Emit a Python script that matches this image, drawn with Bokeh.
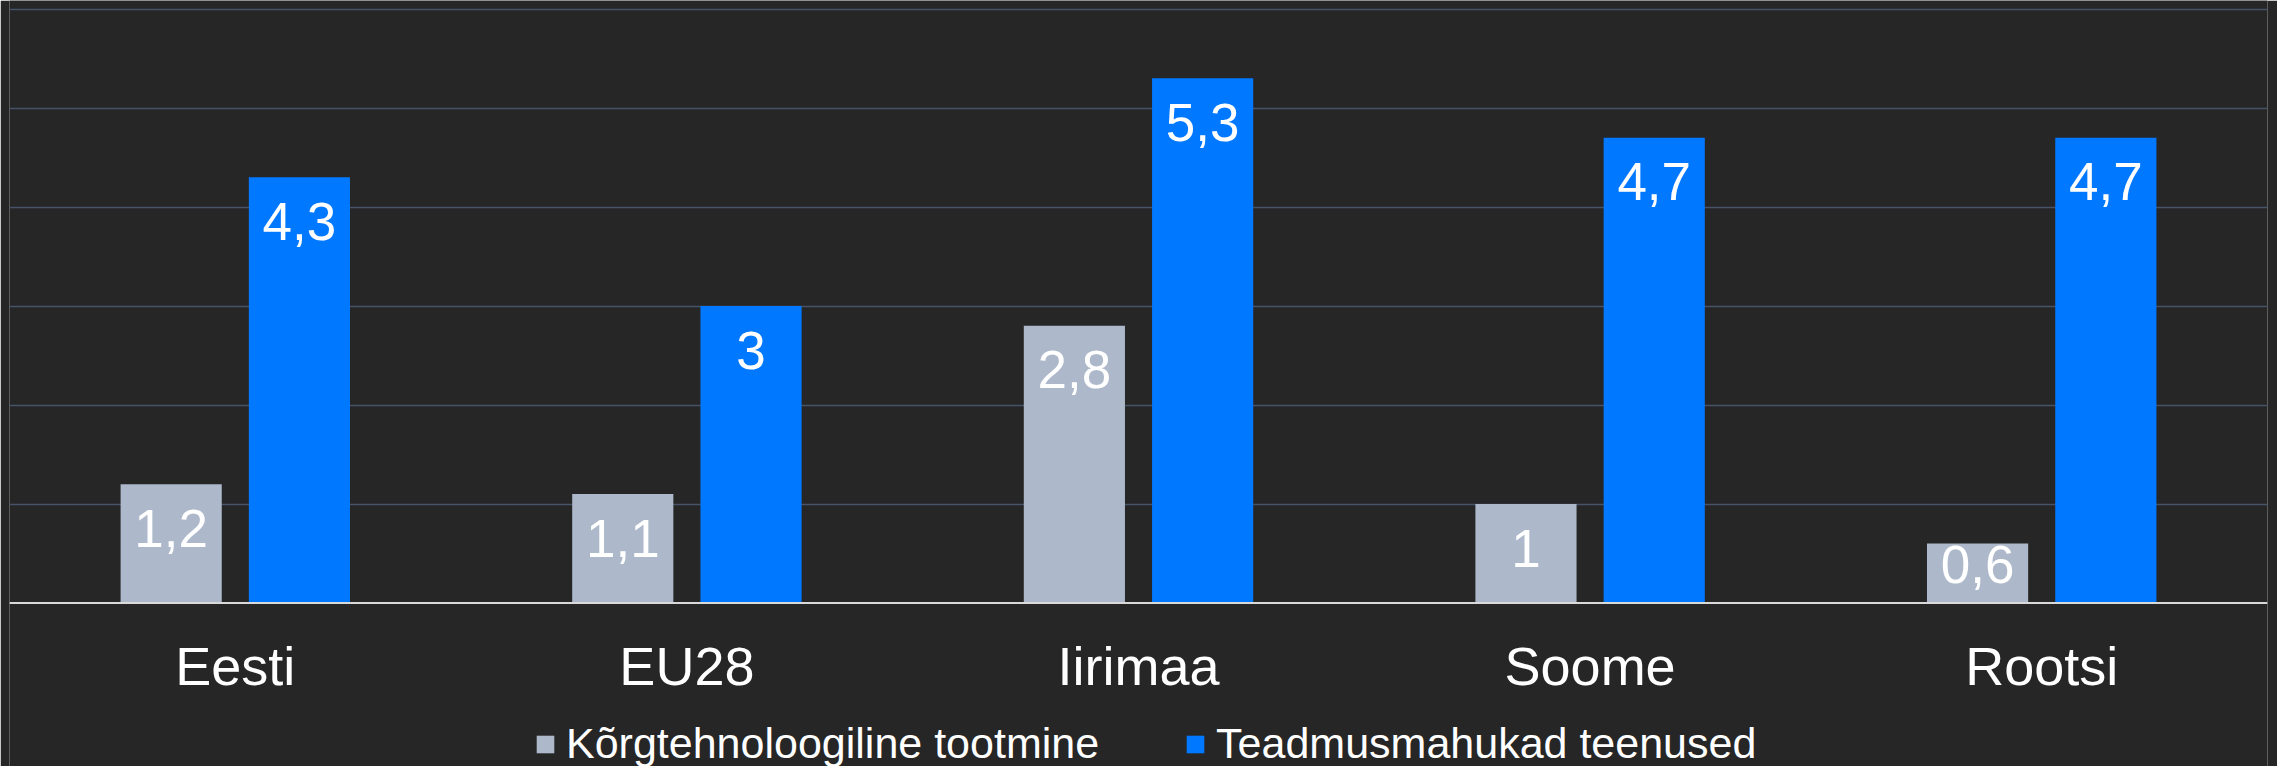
from bokeh.plotting import figure
from bokeh.models import (ColumnDataSource, FactorRange, Range1d, Legend, LegendItem, Span)
from bokeh.transform import dodge
from bokeh.core.properties import value
from bokeh.embed import file_html
from bokeh.resources import INLINE

categories = ["Eesti", "EU28", "Iirimaa", "Soome", "Rootsi"]
series_names = ["Kõrgtehnoloogiline tootmine", "Teadmusmahukad teenused"]
high_tech = [1.2, 1.1, 2.8, 1.0, 0.6]
knowledge = [4.3, 3.0, 5.3, 4.7, 4.7]
y_ticks = [1, 2, 3, 4, 5, 6]

FONT = "Liberation Sans"
BG = "#262626"
GRAY = "#adb9ca"
BLUE = "#0078ff"

frame_w = 2258
frame_h = 766
px_per_unit = 99.0
y_top = 6 + 8.5 / px_per_unit
y_bottom = y_top - frame_h / px_per_unit


def fmt(v):
    return f"{v:g}".replace(".", ",")


def label_offsets(vals):
    # label sits just under the bar top, but stays within short bars
    return [min(44.0, v * px_per_unit - 39.0) for v in vals]


src = ColumnDataSource(dict(
    cat=categories,
    zero=[0] * len(categories),
    a=high_tech, b=knowledge,
    la=[fmt(v) for v in high_tech], lb=[fmt(v) for v in knowledge],
    oa=label_offsets(high_tech), ob=label_offsets(knowledge),
))

p = figure(
    frame_width=frame_w, frame_height=frame_h,
    x_range=FactorRange(*categories, range_padding=0),
    y_range=Range1d(y_bottom, y_top),
    output_backend="svg", toolbar_location=None,
    background_fill_color=BG, border_fill_color=BG,
    min_border_left=9, min_border_right=10, min_border_top=0,
    min_border_bottom=0,
)
p.outline_line_color = None
p.xaxis.visible = False
p.yaxis.visible = False
p.ygrid.ticker = y_ticks
p.ygrid.grid_line_color = "#46536a"
p.ygrid.grid_line_width = 1.5
p.xgrid.grid_line_color = None

bw = 0.224
off = 0.142
r1 = p.vbar(x=dodge("cat", -off, range=p.x_range), top="a", bottom=0, width=bw,
            source=src, fill_color=GRAY, line_color=None)
r2 = p.vbar(x=dodge("cat", off, range=p.x_range), top="b", bottom=0, width=bw,
            source=src, fill_color=BLUE, line_color=None)

# category axis baseline
p.add_layout(Span(location=0, dimension="width", line_color="#d9d9d9", line_width=2))

# value labels
p.text(x=dodge("cat", -off, range=p.x_range), y="a", text="la", y_offset="oa",
       source=src, text_align="center", text_baseline="alphabetic",
       text_color="white", text_font=value(FONT), text_font_size="53px")
p.text(x=dodge("cat", off, range=p.x_range), y="b", text="lb", y_offset="ob",
       source=src, text_align="center", text_baseline="alphabetic",
       text_color="white", text_font=value(FONT), text_font_size="53px")

# category labels under the baseline
p.text(x="cat", y="zero", text="cat", y_offset=63, source=src,
       text_align="center", text_baseline="alphabetic",
       text_color="white", text_font=value(FONT), text_font_size="54px")

legend = Legend(
    items=[LegendItem(label=series_names[0], renderers=[r1]),
           LegendItem(label=series_names[1], renderers=[r2])],
    orientation="horizontal", location=(525, -2),
    glyph_width=22, glyph_height=22, label_standoff=10, spacing=85,
    label_text_font=FONT, label_text_font_size="43px", label_text_color="white",
    label_height=40,
    background_fill_alpha=0, border_line_color=None,
    padding=0, margin=0,
)
p.add_layout(legend, "center")

open("out.html", "w").write(file_html(p, INLINE))
